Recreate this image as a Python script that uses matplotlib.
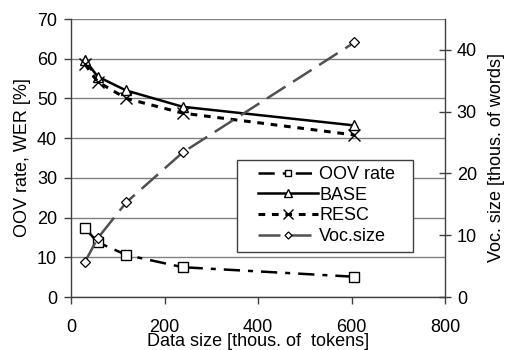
import matplotlib
matplotlib.use("Agg")
import matplotlib.pyplot as plt
from matplotlib.patches import Rectangle

plt.rcParams['font.family'] = ['Liberation Sans', 'DejaVu Sans']

data_size = [30, 57, 118, 239, 606]
oov_rate = [17.3, 13.8, 10.6, 7.5, 5.1]
base_wer = [59.7, 55.5, 52.0, 47.9, 43.2]
resc_wer = [58.6, 54.2, 50.0, 46.3, 40.8]
voc_size = [5.7, 9.5, 15.3, 23.4, 41.2]

x_ticks = [0, 200, 400, 600, 800]
left_ticks = [0, 10, 20, 30, 40, 50, 60, 70]
right_ticks = [0, 10, 20, 30, 40]

W, H = 505, 350
fig = plt.figure(figsize=(5.05, 3.5), dpi=100)
ax = fig.add_axes([71/W, 53/H, 374/W, 278/H])
ax2 = ax.twinx()

ax.set_xlim(0, 800)
ax.set_ylim(0, 70)
ax2.set_ylim(0, 45)
ax.set_xticks(x_ticks)
ax.set_yticks(left_ticks)
ax2.set_yticks(right_ticks)

ax.yaxis.grid(True, color='#808080', linewidth=1.0)
ax.set_axisbelow(True)

ax.spines['top'].set_visible(False)
ax2.spines['top'].set_visible(False)
ax2.spines['left'].set_visible(False)
ax2.spines['bottom'].set_visible(False)
ax.spines['right'].set_visible(False)
for sp in [ax.spines['left'], ax.spines['bottom'], ax2.spines['right']]:
    sp.set_color('#404040')
    sp.set_linewidth(1.0)

ax.tick_params(axis='both', direction='out', length=5, width=1, color='#404040', labelsize=13)
ax.tick_params(axis='x', pad=11)
ax.tick_params(axis='y', pad=5)
ax2.tick_params(axis='y', direction='inout', length=9, width=1, color='#404040', labelsize=13, pad=4)

l1, = ax.plot(data_size, oov_rate, color='black', linewidth=1.8, dashes=(6.5, 3.2, 2, 3.2),
              marker='s', markersize=6.5, markerfacecolor='white', markeredgecolor='black',
              markeredgewidth=1.0, label='OOV rate')
l2, = ax.plot(data_size, base_wer, color='black', linewidth=1.8, linestyle='-',
              marker='^', markersize=7.5, markerfacecolor='white', markeredgecolor='black',
              markeredgewidth=1.0, label='BASE')
l3, = ax.plot(data_size, resc_wer, color='black', linewidth=2.2, dashes=(2.2, 2.2),
              marker='x', markersize=9, markeredgecolor='black',
              markeredgewidth=1.0, label='RESC')
l4, = ax2.plot(data_size, voc_size, color='#505050', linewidth=1.8, dashes=(8.8, 3.6),
               marker='D', markersize=4.8, markerfacecolor='white', markeredgecolor='black',
               markeredgewidth=0.9, label='Voc.size')

ax.set_xlabel('Data size [thous. of  tokens]', fontsize=13, labelpad=-2.5)
ax.set_ylabel('OOV rate, WER [%]', fontsize=13, labelpad=4)
ax2.set_ylabel('Voc. size [thous. of words]', fontsize=13, labelpad=8)

# legend frame
frame = Rectangle((237/W, 1 - 252/H), 176/W, 92/H, transform=fig.transFigure,
                  facecolor='white', edgecolor='#404040', linewidth=1.0, zorder=4.9)
fig.patches.append(frame)

leg = fig.legend(handles=[l1, l2, l3, l4], loc='upper left',
                 bbox_to_anchor=(258/W, 1 - 166/H), fontsize=13,
                 frameon=False, borderpad=0, labelspacing=0.2,
                 handlelength=3.3, handletextpad=0.1, borderaxespad=0, markerscale=0.75)
leg.set_zorder(5)

fig.savefig('out.png', dpi=100)
